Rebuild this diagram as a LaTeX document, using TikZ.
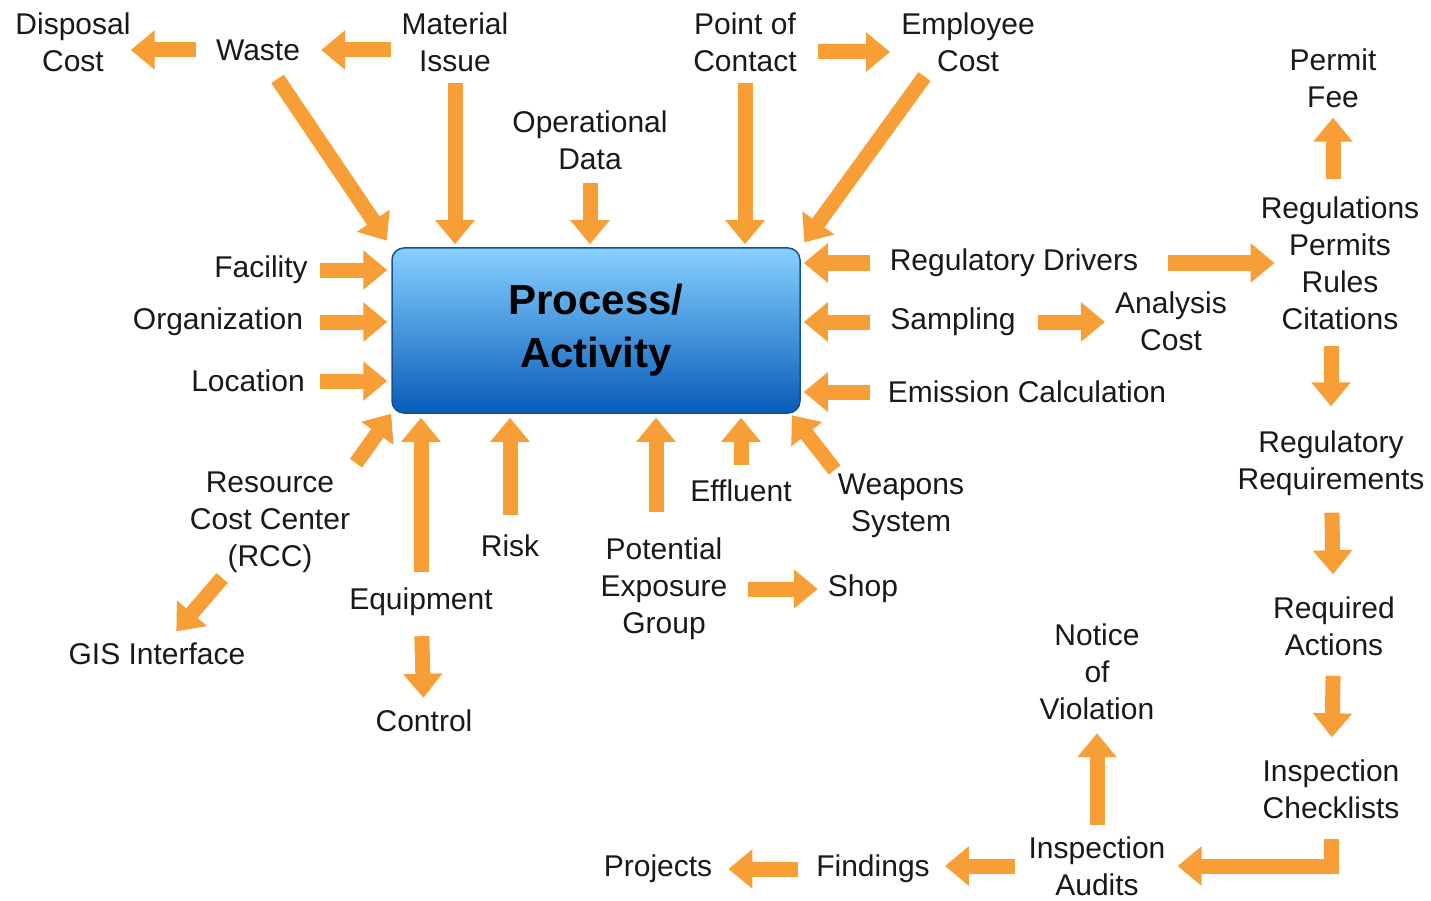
\documentclass[tikz,border=0pt]{standalone}
\usepackage{fontspec}
\setmainfont{Liberation Sans}
\usetikzlibrary{arrows.meta}
\definecolor{orng}{RGB}{248,158,54}
\definecolor{txt}{RGB}{25,25,25}
\definecolor{boxtop}{RGB}{135,208,255}
\definecolor{boxmid}{RGB}{45,155,240}
\definecolor{boxbot}{RGB}{8,92,185}
\definecolor{boxline}{RGB}{20,80,150}

\begin{document}
\begin{tikzpicture}[x=1pt, y=-1pt, lbl/.style = {align=center, inner sep=0pt, text=txt, font=\fontsize{30}{37}\selectfont}, mainbox/.style = {draw=boxline, line width=1.5pt, rounded corners=12pt, top color=boxtop, middle color=boxmid, bottom color=boxbot, minimum width=408pt, minimum height=165pt, align=center, text=black, font=\bfseries\fontsize{42}{53}\selectfont}, arr/.style = {draw=orng, line width=15pt, -{Triangle[length=24pt,width=38pt]}}]
		\useasboundingbox (0,0) rectangle (1431,901);
		\node[mainbox] (proc) at (596,330.5) {Process/\\Activity};
		\node[lbl] (disposal) at (73,42) {Disposal\\Cost};
		\node[lbl] (waste) at (258,50) {Waste};
		\node[lbl] (issue) at (455,42) {Material\\Issue};
		\node[lbl] (contact) at (745,42) {Point of\\Contact};
		\node[lbl] (employee) at (968,42) {Employee\\Cost};
		\node[lbl] (opdata) at (590,140) {Operational\\Data};
		\node[lbl] (fee) at (1333,78) {Permit\\Fee};
		\node[lbl] (regs) at (1340,263) {Regulations\\Permits\\Rules\\Citations};
		\node[lbl] (facility) at (261,270) {Facility};
		\node[lbl] (org) at (218,322) {Organization};
		\node[lbl] (location) at (248,381) {Location};
		\node[lbl] (drivers) at (1014,263) {Regulatory Drivers};
		\node[lbl] (sampling) at (953,322) {Sampling};
		\node[lbl] (analysis) at (1171,321) {Analysis\\Cost};
		\node[lbl] (emission) at (1027,392) {Emission Calculation};
		\node[lbl] (regreq) at (1331,463) {Regulatory\\Requirements};
		\node[lbl] (rcc) at (270,522) {Resource\\Cost Center\\(RCC)};
		\node[lbl] (effluent) at (741,491) {Effluent};
		\node[lbl] (weapons) at (901,506) {Weapons\\System};
		\node[lbl] (risk) at (510,546) {Risk};
		\node[lbl] (pot) at (664,589) {Potential\\Exposure\\Group};
		\node[lbl] (shop) at (863,589) {Shop};
		\node[lbl] (equip) at (421,602) {Equipment};
		\node[lbl] (reqact) at (1334,626) {Required\\Actions};
		\node[lbl] (gis) at (157,654) {GIS Interface};
		\node[lbl] (notice) at (1097,672) {Notice\\of\\Violation};
		\node[lbl] (control) at (424,721) {Control};
		\node[lbl] (checklist) at (1331,789) {Inspection\\Checklists};
		\node[lbl] (projects) at (658,869) {Projects};
		\node[lbl] (findings) at (873,869) {Findings};
		\node[lbl] (audits) at (1097,866) {Inspection\\Audits};
		\coordinate (potup) at ([xshift=-8pt]pot.north);
		\draw[arr, shorten <=20pt] (waste.west) -- (waste.west -| disposal.east);
		\draw[arr, shorten <=10pt, shorten >=21pt] (issue.west |- waste) -- (waste.east);
		\draw[arr, shorten <=21pt, shorten >=11pt] ([yshift=-10pt]contact.east) -- ([yshift=-10pt]contact.east -| employee.west);
		\draw[arr, shorten <=22pt, shorten >=8pt] (waste) -- (proc.north west);
		\draw[arr, shorten <=11pt, shorten >=3pt] (issue) -- (issue |- proc.north);
		\draw[arr, shorten <=13pt, shorten >=3pt] (opdata) -- (opdata |- proc.north);
		\draw[arr, shorten <=11pt, shorten >=3pt] (contact) -- (contact |- proc.north);
		\draw[arr, shorten <=6pt, shorten >=6pt] ([xshift=-40pt]employee.south) -- (proc.north east);
		\draw[arr, shorten <=12pt, shorten >=4pt] (facility) -- (facility -| proc.west);
		\draw[arr, shorten <=17pt, shorten >=4pt] (org) -- (org -| proc.west);
		\draw[arr, shorten <=15pt, shorten >=4pt] (location) -- (location -| proc.west);
		\draw[arr, shorten <=20pt, shorten >=3pt] (drivers) -- (drivers -| proc.east);
		\draw[arr, shorten <=20pt, shorten >=3pt] (sampling) -- (sampling -| proc.east);
		\draw[arr, shorten <=18pt, shorten >=3pt] (emission) -- (emission -| proc.east);
		\draw[arr, shorten <=30pt, shorten >=-14pt] (drivers) -- (drivers -| regs.west);
		\draw[arr, shorten <=22pt, shorten >=10pt] (sampling) -- (sampling -| analysis.west);
		\draw[arr, shorten <=17pt, shorten >=10pt] (fee |- regs.north) -- (fee);
		\draw[arr, shorten <=16pt, shorten >=24pt] (regreq |- regs.south) -- (regreq);
		\draw[arr, shorten <=17pt, shorten >=22pt] (regreq) -- (reqact);
		\draw[arr, shorten <=20pt, shorten >=22pt] (reqact) -- (checklist);
		\draw[arr, shorten <=20pt, shorten >=12pt] (checklist) |- (audits);
		\draw[arr, shorten <=11pt, shorten >=13pt] (audits) -- (notice);
		\draw[arr, shorten <=13pt, shorten >=15pt] (audits) -- (audits -| findings.east);
		\draw[arr, shorten <=18pt, shorten >=16pt] (findings) -- (findings -| projects.east);
		\draw[arr, shorten <=10pt] (rcc.north east) -- (proc.south west);
		\draw[arr, shorten <=16pt, shorten >=4pt] (equip) -- (equip |- proc.south);
		\draw[arr, shorten <=20pt, shorten >=4pt] (risk) -- (risk |- proc.south);
		\draw[arr, shorten <=26pt, shorten >=4pt] (potup) -- (potup |- proc.south);
		\draw[arr, shorten <=15pt, shorten >=4pt] (effluent) -- (effluent |- proc.south);
		\draw[arr, shorten <=5pt, shorten >=2pt] (weapons.north west) -- ([xshift=-10pt]proc.south east);
		\draw[arr, shorten <=20pt, shorten >=10pt] (pot.east |- shop) -- (shop);
		\draw[arr, shorten <=7pt, shorten >=15pt] (rcc) -- (gis);
		\draw[arr, shorten <=20pt, shorten >=12pt] (equip) -- (control);
	\end{tikzpicture}
\end{document}
